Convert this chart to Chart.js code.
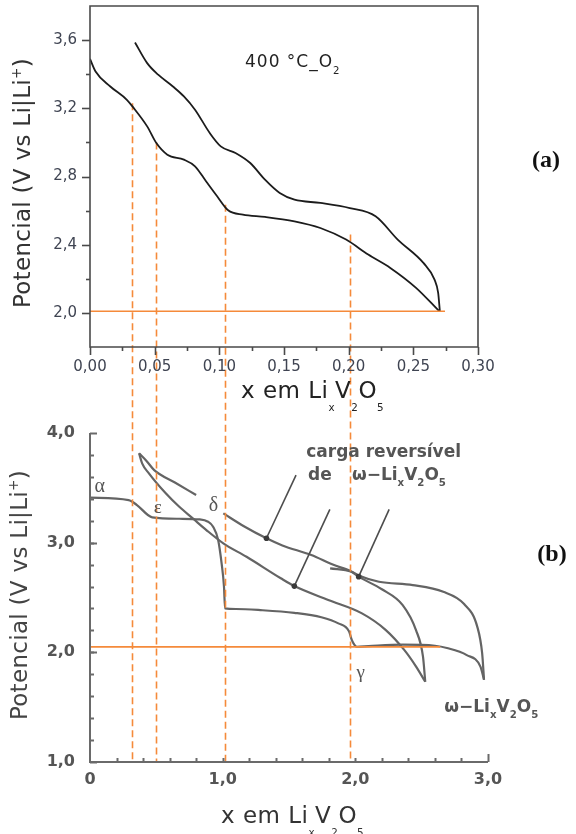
<!DOCTYPE html>
<html>
<head>
<meta charset="utf-8">
<script src="https://cdn.jsdelivr.net/npm/chart.js@4.4.1/dist/chart.umd.min.js"></script>
<style>
  html, body { margin: 0; padding: 0; background: #fff; }
  #wrap { position: relative; width: 576px; height: 834px; }
  #wrap canvas { position: absolute; left: 0; top: 0; }
</style>
</head>
<body>
<div id="wrap">
  <canvas id="chartB" width="576" height="834"></canvas>
  <canvas id="chartA" width="576" height="420"></canvas>
</div>
<script>
// ---- (a) 400 °C_O2 ----
const aDischargeX = [0, 0.0043, 0.0157, 0.0285, 0.0328, 0.0442, 0.0513, 0.0598, 0.0726, 0.0812, 0.0897, 0.0983, 0.1068, 0.1182, 0.1353, 0.1581, 0.1781, 0.1980, 0.2151, 0.2322, 0.2521, 0.2700];
const aDischargeY = [3.49, 3.416, 3.328, 3.250, 3.211, 3.094, 2.996, 2.928, 2.899, 2.860, 2.772, 2.684, 2.602, 2.576, 2.563, 2.537, 2.498, 2.430, 2.342, 2.264, 2.147, 2.010];
const aChargeX = [0.0348, 0.0442, 0.0527, 0.0641, 0.0726, 0.0812, 0.0926, 0.1011, 0.1125, 0.1239, 0.1353, 0.1467, 0.1581, 0.1781, 0.2009, 0.2208, 0.2379, 0.2578, 0.2664, 0.2692, 0.2705];
const aChargeY = [3.586, 3.465, 3.397, 3.328, 3.270, 3.192, 3.055, 2.977, 2.938, 2.879, 2.781, 2.703, 2.664, 2.645, 2.615, 2.567, 2.430, 2.293, 2.195, 2.117, 2.010];
const aCutoffX = [0, 0.2745];
const aCutoffY = [2.01, 2.01];
const aTicksX = [0, 0.05, 0.10, 0.15, 0.20, 0.25, 0.30];
const aLabelsX = ['0,00', '0,05', '0,10', '0,15', '0,20', '0,25', '0,30'];
const aTicksY = [2.0, 2.4, 2.8, 3.2, 3.6];
const aLabelsY = ['2,0', '2,4', '2,8', '3,2', '3,6'];

// ---- (b) ----
const bDis1X = [0, 0.291, 0.354, 0.469, 0.673, 0.826, 0.89, 0.928, 0.966, 0.992, 1.01, 1.018, 1.1, 1.285, 1.54, 1.744, 1.872, 1.953, 1.974, 2.012, 2.10, 2.357, 2.60, 2.69, 2.84, 2.943, 2.97];
const bDis1Y = [3.41, 3.388, 3.343, 3.231, 3.218, 3.212, 3.191, 3.145, 3.024, 2.811, 2.598, 2.401, 2.395, 2.385, 2.36, 2.32, 2.264, 2.19, 2.11, 2.051, 2.057, 2.07, 2.06, 2.04, 1.975, 1.87, 1.75];
const bCha1X = [0.37, 0.426, 0.484, 0.64, 0.80, 0.90, 1.005, 1.16, 1.33, 1.45, 1.668, 1.83, 1.966, 2.025, 2.178, 2.433, 2.663, 2.82, 2.92, 2.956, 2.97];
const bCha1Y = [3.815, 3.745, 3.662, 3.548, 3.434, null, 3.267, 3.15, 3.04, 2.975, 2.887, 2.80, 2.74, 2.70, 2.644, 2.613, 2.552, 2.44, 2.23, 1.99, 1.75];
const bDis2X = [0.37, 0.393, 0.444, 0.571, 0.673, 0.775, 0.877, 1.005, 1.18, 1.438, 1.54, 1.796, 2.05, 2.23, 2.37, 2.458, 2.527];
const bDis2Y = [3.815, 3.723, 3.632, 3.45, 3.327, 3.221, 3.115, 2.994, 2.871, 2.675, 2.604, 2.477, 2.355, 2.203, 2.02, 1.87, 1.732];
const bCha2X = [1.81, 1.97, 2.025, 2.2, 2.357, 2.458, 2.51, 2.527];
const bCha2Y = [2.766, 2.735, 2.69, 2.575, 2.43, 2.2, 1.96, 1.732];
const bCutoffX = [0, 2.64];
const bCutoffY = [2.05, 2.05];
const bPointerFromX = [1.553, 1.808, 2.255];
const bPointerFromY = [3.616, 3.303, 3.303];
const bPointerToX = [1.33, 1.54, 2.025];
const bPointerToY = [3.04, 2.604, 2.69];
const bTicksX = [0, 1, 2, 3];
const bLabelsX = ['0', '1,0', '2,0', '3,0'];
const bTicksY = [1, 2, 3, 4];
const bLabelsY = ['1,0', '2,0', '3,0', '4,0'];

// dashed links from (a) down to the x axis of (b), in (a) units
const linkX = [0.0328, 0.0507, 0.104, 0.2009];
const linkTopY = [3.23, 3.0, 2.635, 2.46];

const ORANGE = '#f58a3a';
const SANS = '"DejaVu Sans", "Liberation Sans", sans-serif';
const SERIF = '"Liberation Serif", "DejaVu Serif", serif';

const pts = (xs, ys) => xs.map((x, i) => ({x: x, y: ys[i]}));
const steps = (a, b, s) => {
  const out = [];
  for (let v = a; v <= b + 1e-9; v += s) out.push(+v.toFixed(4));
  return out;
};

function fontOf(it, mode) {
  const size = mode ? it.size * (it.small || 0.6) : it.size;
  return (it.weight || 'normal') + ' ' + size + 'px ' + (it.family || SANS);
}

function drawRich(ctx, it, x, y) {
  ctx.save();
  ctx.fillStyle = it.color || '#333';
  ctx.textBaseline = it.baseline || 'alphabetic';
  ctx.textAlign = 'left';
  if ('letterSpacing' in ctx) ctx.letterSpacing = (it.spacing || 0) + 'px';
  const widths = it.parts.map(([t, m]) => { ctx.font = fontOf(it, m); return ctx.measureText(t).width; });
  const total = widths.reduce((a, b) => a + b, 0);
  ctx.translate(x, y);
  if (it.rot) ctx.rotate(it.rot * Math.PI / 180);
  let cx = it.align === 'center' ? -total / 2 : 0;
  it.parts.forEach(([t, m], i) => {
    ctx.font = fontOf(it, m);
    let dy = 0;
    if (m === 'sub') dy = it.size * (it.drop || 0.35);
    if (m === 'sup') dy = -it.size * 0.4;
    ctx.fillText(t, cx, dy);
    cx += widths[i];
  });
  ctx.restore();
}

// text placed either in data units (x, y) or in pixels from the chart area corner (px, py)
const textLayer = (items) => ({
  id: 'textLayer',
  afterDraw(chart) {
    const {ctx, chartArea, scales} = chart;
    items.forEach(it => {
      const x = it.px !== undefined ? chartArea.left + it.px : scales.x.getPixelForValue(it.x);
      const y = it.py !== undefined ? chartArea.top + it.py : scales.y.getPixelForValue(it.y);
      drawRich(ctx, it, x, y);
    });
  }
});

// tick marks (len > 0 outward, len < 0 inward) and axis frame
const axisDecor = (cfg) => ({
  id: 'axisDecor',
  afterDraw(chart) {
    const {ctx, chartArea, scales} = chart;
    ctx.save();
    ctx.strokeStyle = cfg.color;
    ctx.lineWidth = cfg.width;
    ctx.lineCap = 'butt';
    ctx.beginPath();
    if (cfg.box) {
      ctx.rect(chartArea.left, chartArea.top, chartArea.right - chartArea.left, chartArea.bottom - chartArea.top);
    } else {
      ctx.moveTo(chartArea.left, chartArea.top);
      ctx.lineTo(chartArea.left, chartArea.bottom);
      ctx.lineTo(chartArea.right, chartArea.bottom);
    }
    ctx.stroke();
    cfg.marks.forEach(m => {
      const scale = scales[m.axis];
      m.values.forEach(v => {
        const p = Math.round(scale.getPixelForValue(v)) + 0.5;
        ctx.beginPath();
        if (m.axis === 'x') {
          ctx.moveTo(p, chartArea.bottom);
          ctx.lineTo(p, chartArea.bottom + m.len);
        } else {
          ctx.moveTo(chartArea.left, p);
          ctx.lineTo(chartArea.left - m.len, p);
        }
        ctx.stroke();
      });
    });
    ctx.restore();
  }
});

const fixAxis = (size) => (scale) => {
  if (scale.isHorizontal()) scale.height = size; else scale.width = size;
  scale.paddingTop = 0; scale.paddingBottom = 0;
  scale.paddingLeft = 0; scale.paddingRight = 0;
};

const line = (data, color, width, extra) => Object.assign({
  data: data, showLine: true, borderColor: color, borderWidth: width,
  pointRadius: 0, cubicInterpolationMode: 'monotone', spanGaps: false, fill: false
}, extra || {});

const subTitle = {size: 23, spacing: 0.5, small: 0.45, drop: 0.55,
  parts: [['x em Li', ''], ['x', 'sub'], ['V', ''], ['2', 'sub'], ['O', ''], ['5', 'sub']]};
const omega = {size: 17, weight: 'bold', color: '#555', small: 0.6, drop: 0.35,
  parts: [['ω−Li', ''], ['x', 'sub'], ['V', ''], ['2', 'sub'], ['O', ''], ['5', 'sub']]};

// ---------- chart (a) ----------
const chartA = new Chart(document.getElementById('chartA'), {
  type: 'scatter',
  data: {
    datasets: [
      line(pts(aCutoffX, aCutoffY), ORANGE, 1.6, {cubicInterpolationMode: 'default', tension: 0}),
      line(pts(aDischargeX, aDischargeY), '#1c1c1c', 1.8),
      line(pts(aChargeX, aChargeY), '#1c1c1c', 1.8)
    ]
  },
  options: {
    responsive: false,
    animation: false,
    events: [],
    layout: { padding: { left: 0, top: 6, right: 98, bottom: 33 } },
    plugins: { legend: { display: false }, tooltip: { enabled: false } },
    scales: {
      x: {
        type: 'linear', min: 0, max: 0.30,
        grid: { display: false, drawTicks: false },
        border: { display: false },
        afterBuildTicks: s => { s.ticks = aTicksX.map(v => ({value: v})); },
        afterFit: fixAxis(40),
        ticks: {
          autoSkip: false, maxRotation: 0, padding: 11, color: '#3f4452',
          font: { family: SANS, size: 15 },
          callback: (v, i) => aLabelsX[i]
        }
      },
      y: {
        type: 'linear', min: 1.8, max: 3.8,
        grid: { display: false, drawTicks: false },
        border: { display: false },
        afterBuildTicks: s => { s.ticks = aTicksY.map(v => ({value: v})); },
        afterFit: fixAxis(90),
        ticks: {
          padding: 13, color: '#3f4452',
          font: { family: SANS, size: 15 },
          callback: (v, i) => aLabelsY[i]
        }
      }
    }
  },
  plugins: [
    axisDecor({
      color: '#4a4a4a', width: 1.6, box: true,
      marks: [
        {axis: 'x', values: aTicksX, len: 8},
        {axis: 'x', values: steps(0.025, 0.275, 0.05), len: 4},
        {axis: 'y', values: aTicksY, len: 8},
        {axis: 'y', values: steps(2.2, 3.4, 0.4), len: 4}
      ]
    }),
    textLayer([
      {px: -60, py: 177, rot: -90, align: 'center', size: 23, color: '#333', spacing: 0.3,
        parts: [['Potencial (V vs Li|Li', ''], ['+', 'sup'], [')', '']]},
      Object.assign({px: 151, py: 392, color: '#222'}, subTitle),
      {px: 155, py: 61, size: 17, color: '#222', spacing: 1, drop: 0.4,
        parts: [['400 °C_O', ''], ['2', 'sub']]},
      {px: 456, py: 161, size: 24, weight: 'bold', family: SERIF, color: '#111', align: 'center',
        parts: [['(a)', '']]}
    ])
  ]
});

// ---------- chart (b) ----------
const linkPlugin = {
  id: 'links',
  afterDatasetsDraw(chart) {
    const ctx = chart.ctx;
    const bottom = chart.scales.y.getPixelForValue(chart.scales.y.min);
    ctx.save();
    ctx.strokeStyle = ORANGE;
    ctx.lineWidth = 1.6;
    ctx.setLineDash([7, 4]);
    linkX.forEach((xv, i) => {
      const x = Math.round(chartA.scales.x.getPixelForValue(xv)) + 0.5;
      const top = chartA.scales.y.getPixelForValue(linkTopY[i]);
      ctx.beginPath();
      ctx.moveTo(x, top);
      ctx.lineTo(x, bottom);
      ctx.stroke();
    });
    ctx.restore();
  }
};

const GREY = '#646464';
const pointerSets = bPointerFromX.map((x0, i) => line(
  pts([x0, bPointerToX[i]], [bPointerFromY[i], bPointerToY[i]]), '#4d4d4d', 1.6,
  {cubicInterpolationMode: 'default', tension: 0, pointRadius: [0, 2.8], pointBackgroundColor: '#3a3a3a', pointBorderWidth: 0}
));

new Chart(document.getElementById('chartB'), {
  type: 'scatter',
  data: {
    datasets: [
      line(pts(bCutoffX, bCutoffY), ORANGE, 1.8, {cubicInterpolationMode: 'default', tension: 0}),
      ...pointerSets,
      line(pts(bDis1X, bDis1Y), GREY, 2.2),
      line(pts(bCha1X, bCha1Y), GREY, 2.2),
      line(pts(bDis2X, bDis2Y), GREY, 2.2),
      line(pts(bCha2X, bCha2Y), GREY, 2.2)
    ]
  },
  options: {
    responsive: false,
    animation: false,
    events: [],
    layout: { padding: { left: 0, top: 433, right: 88, bottom: 42 } },
    plugins: { legend: { display: false }, tooltip: { enabled: false } },
    scales: {
      x: {
        type: 'linear', min: 0, max: 3.0,
        grid: { display: false, drawTicks: false },
        border: { display: false },
        afterBuildTicks: s => { s.ticks = bTicksX.map(v => ({value: v})); },
        afterFit: fixAxis(30),
        ticks: {
          autoSkip: false, maxRotation: 0, padding: 8, color: '#555',
          font: { family: SANS, size: 16, weight: 'bold' },
          callback: (v, i) => bLabelsX[i]
        }
      },
      y: {
        type: 'linear', min: 1.0, max: 4.0,
        grid: { display: false, drawTicks: false },
        border: { display: false },
        afterBuildTicks: s => { s.ticks = bTicksY.map(v => ({value: v})); },
        afterFit: fixAxis(90),
        ticks: {
          padding: 15, color: '#555',
          font: { family: SANS, size: 16, weight: 'bold' },
          callback: (v, i) => bLabelsY[i]
        }
      }
    }
  },
  plugins: [
    linkPlugin,
    axisDecor({
      color: '#6a6a6a', width: 2, box: false,
      marks: [
        {axis: 'x', values: steps(0.2, 2.8, 0.2), len: -4},
        {axis: 'x', values: [3.0], len: -8},
        {axis: 'y', values: steps(1.2, 3.8, 0.2), len: -4},
        {axis: 'y', values: bTicksY, len: -7}
      ]
    }),
    textLayer([
      {px: -63, py: 162, rot: -90, align: 'center', size: 23, color: '#444', spacing: 0.3,
        parts: [['Potencial (V vs Li|Li', ''], ['+', 'sup'], [')', '']]},
      Object.assign({px: 131, py: 390, color: '#333'}, subTitle),
      {px: 462, py: 128, size: 24, weight: 'bold', family: SERIF, color: '#111', align: 'center',
        parts: [['(b)', '']]},
      {x: 0.074, y: 3.51, size: 20, family: SERIF, color: '#555', align: 'center', baseline: 'middle', parts: [['α', '']]},
      {x: 0.51, y: 3.32, size: 19, family: SERIF, color: '#555', align: 'center', baseline: 'middle', parts: [['ε', '']]},
      {x: 0.93, y: 3.34, size: 20, family: SERIF, color: '#555', align: 'center', baseline: 'middle', parts: [['δ', '']]},
      {x: 2.04, y: 1.81, size: 19, family: SERIF, color: '#555', align: 'center', baseline: 'middle', parts: [['γ', '']]},
      {x: 1.63, y: 3.78, size: 17, weight: 'bold', color: '#555', spacing: 0,
        parts: [['carga reversível', '']]},
      {x: 1.643, y: 3.57, size: 17, weight: 'bold', color: '#555', parts: [['de', '']]},
      Object.assign({x: 1.974, y: 3.57}, omega),
      Object.assign({x: 2.67, y: 1.456}, omega)
    ])
  ]
});
</script>
</body>
</html>
